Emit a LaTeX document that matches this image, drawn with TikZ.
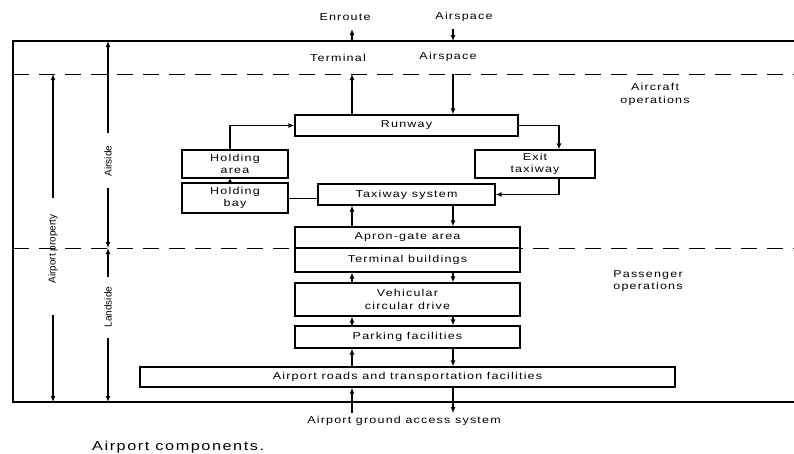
\documentclass[tikz,border=0pt]{standalone}
\usepackage{fontspec}
\setmainfont{Liberation Sans}[FakeStretch=1.25,LetterSpace=12]
\newfontfamily\sidefont{Liberation Sans}
\usetikzlibrary{arrows.meta}
\begin{document}
\begin{tikzpicture}[x=1pt,y=-1pt,
  txt/.style={font=\fontsize{10}{12.5}\selectfont,align=center,inner sep=0pt},
  box/.style={txt,draw,line width=1.2pt,fill=white},
  flow/.style={line width=1.6pt,-{Latex[length=6pt,width=5pt]}},
  shortflow/.style={line width=1.6pt,-{Latex[length=4pt,width=5pt]}},
  dim/.style={line width=1.5pt,-{Latex[length=6pt,width=5pt]}},
  frame/.style={line width=1.3pt},
  dashline/.style={line width=1pt,dash pattern=on 16pt off 10pt},
  side/.style={font=\sidefont\fontsize{10}{12}\selectfont,rotate=90,inner sep=0pt}
]
\useasboundingbox (0,0) rectangle (794,453);

% reference lines
\coordinate (topline) at (0,41);
\coordinate (dash1) at (0,74);
\coordinate (dash2) at (0,248);
\coordinate (botline) at (0,402);
\coordinate (gnd) at (0,413);
\coordinate (xL) at (352,0);
\coordinate (xR) at (453,0);
\coordinate (hx) at (230,0);
\coordinate (ex) at (559,0);

\draw[dashline] (13,74) -- (794,74);
\draw[dashline] (13,248) -- (794,248);
\draw[frame] (794,41) -- (13,41) -- (13,402) -- (794,402);
\draw[line width=1.8pt] (13,41) -- (13,402);

% boxes
\node[box,minimum width=223pt,minimum height=21pt] (runway) at (406.5,125.5) {Runway};
\node[box,minimum width=106pt,minimum height=28pt] (harea) at (235,164) {Holding\\area};
\node[box,minimum width=106pt,minimum height=30pt] (hbay) at (235,198) {Holding\\bay};
\node[box,minimum width=177pt,minimum height=21pt] (taxi) at (406.5,194.5) {Taxiway system};
\node[box,minimum width=120pt,minimum height=28pt] (exit) at (535,164) {Exit\\taxiway};
\node[box,minimum width=225pt,minimum height=21pt] (apron) at (407.5,237.5) {Apron-gate area};
\node[box,minimum width=225pt,minimum height=24pt] (term) at (407.5,260) {Terminal buildings};
\node[box,minimum width=225pt,minimum height=33pt] (veh) at (407.5,299.5) {Vehicular\\circular drive};
\node[box,minimum width=225pt,minimum height=22pt] (park) at (407.5,337) {Parking facilities};
\node[box,minimum width=535pt,minimum height=20pt] (roads) at (407.5,377) {Airport roads and transportation facilities};

% free labels
\node[txt] (enroute) at (345,17) {Enroute};
\node[txt] (airsp1) at (464,17) {Airspace};
\node[txt] (terminal) at (338,58) {Terminal};
\node[txt] (airsp2) at (448,57) {Airspace};
\node[txt] (acops) at (655,94.5) {Aircraft\\operations};
\node[txt] (paxops) at (648,281) {Passenger\\operations};
\node[txt] (ground) at (404,421) {Airport ground access system};
\node[txt,font=\fontsize{13}{15}\selectfont,anchor=west] (caption) at (92,447) {Airport components.};

% top arrows
\coordinate (enrtip) at (352,29);
\coordinate (airtop) at (453,29);
\draw[flow] (runway.north -| xL) -- (dash1 -| xL);
\draw[flow] (topline -| xL) -- (enrtip);
\draw[flow] (airtop) -- (topline -| xR);
\draw[flow] (dash1 -| xR) -- (runway.north -| xR);

% airside connectors
\draw[flow] (harea.north -| hx) |- (runway.west);
\draw[shortflow] (hbay.north -| hx) -- (harea.south -| hx);
\draw[line width=0.8pt] (hbay.east) -- (hbay.east -| taxi.west);
\draw[flow] (runway.east) -| (exit.north -| ex);
\draw[flow] (exit.south -| ex) |- (taxi.east);
\draw[flow] (apron.north -| xL) -- (taxi.south -| xL);
\draw[flow] (taxi.south -| xR) -- (apron.north -| xR);

% landside connectors
\draw[flow] (veh.north -| xL) -- (term.south -| xL);
\draw[flow] (term.south -| xR) -- (veh.north -| xR);
\draw[flow] (park.north -| xL) -- (veh.south -| xL);
\draw[flow] (veh.south -| xR) -- (park.north -| xR);
\draw[flow] (roads.north -| xL) -- (park.south -| xL);
\draw[flow] (park.south -| xR) -- (roads.north -| xR);
\draw[flow] (gnd -| xL) -- (roads.south -| xL);
\draw[flow] (roads.south -| xR) -- (gnd -| xR);

% dimension arrows
\node[side] (prop) at (53,249) {Airport property};
\node[side] (airside) at (108,161) {Airside};
\node[side] (landside) at (108,307) {Landside};
\coordinate (p1) at (53,198);
\coordinate (p2) at (53,315);
\coordinate (a1) at (108,133);
\coordinate (a2) at (108,188);
\coordinate (l1) at (108,277);
\coordinate (l2) at (108,338);
\draw[dim] (p1) -- (dash1 -| p1);
\draw[dim] (p2) -- (botline -| p2);
\draw[dim] (a1) -- (topline -| a1);
\draw[dim] (a2) -- (dash2 -| a2);
\draw[dim] (l1) -- (dash2 -| l1);
\draw[dim] (l2) -- (botline -| l2);
\end{tikzpicture}
\end{document}
